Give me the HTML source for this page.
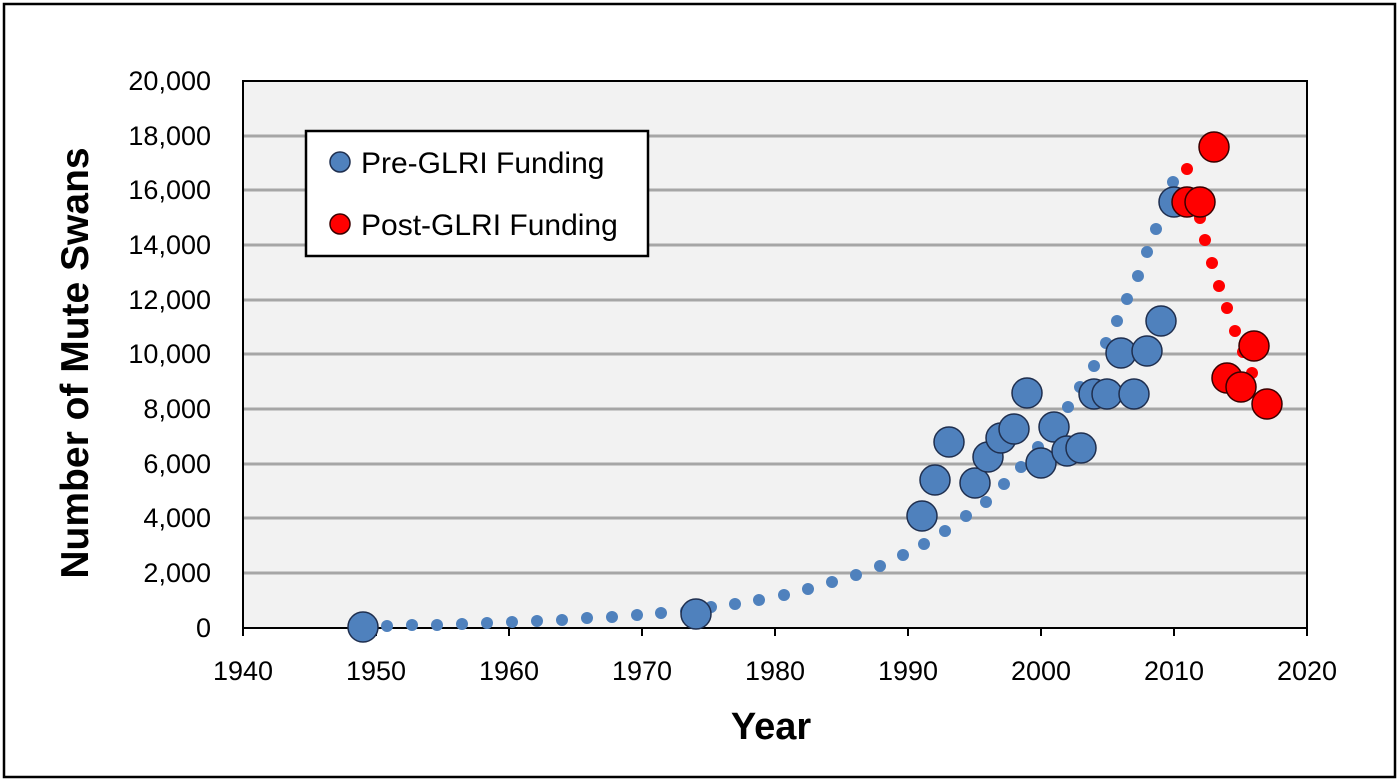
<!DOCTYPE html>
<html><head><style>body{margin:0;background:#fff}svg{display:block}text{font-family:"Liberation Sans",sans-serif;fill:#000}</style></head>
<body>
<svg width="1400" height="782" viewBox="0 0 1400 782" xmlns="http://www.w3.org/2000/svg">
<rect x="4" y="4" width="1391" height="773" fill="#fff" stroke="#000" stroke-width="2.5"/>
<rect x="243" y="81" width="1064" height="547" fill="#f2f2f2"/>
<g stroke="#a6a6a6" stroke-width="3">
<line x1="243" x2="1307" y1="136" y2="136"/><line x1="243" x2="1307" y1="190" y2="190"/>
<line x1="243" x2="1307" y1="245" y2="245"/><line x1="243" x2="1307" y1="300" y2="300"/>
<line x1="243" x2="1307" y1="354" y2="354"/><line x1="243" x2="1307" y1="409" y2="409"/>
<line x1="243" x2="1307" y1="464" y2="464"/><line x1="243" x2="1307" y1="518" y2="518"/>
<line x1="243" x2="1307" y1="573" y2="573"/>
</g>
<rect x="243" y="81" width="1064" height="547" fill="none" stroke="#000" stroke-width="2"/>
<g stroke="#000" stroke-width="2">
<line x1="243" x2="243" y1="628" y2="636"/><line x1="376" x2="376" y1="628" y2="636"/><line x1="509" x2="509" y1="628" y2="636"/><line x1="642" x2="642" y1="628" y2="636"/><line x1="775" x2="775" y1="628" y2="636"/><line x1="908" x2="908" y1="628" y2="636"/><line x1="1041" x2="1041" y1="628" y2="636"/><line x1="1174" x2="1174" y1="628" y2="636"/><line x1="1307" x2="1307" y1="628" y2="636"/>
</g>
<g font-size="27" text-anchor="end">
<text x="211" y="90">20,000</text><text x="211" y="145">18,000</text><text x="211" y="199">16,000</text><text x="211" y="254">14,000</text><text x="211" y="309">12,000</text><text x="211" y="363">10,000</text><text x="211" y="418">8,000</text><text x="211" y="473">6,000</text><text x="211" y="527">4,000</text><text x="211" y="582">2,000</text><text x="211" y="637">0</text>
</g>
<g font-size="27" text-anchor="middle">
<text x="243" y="680">1940</text><text x="376" y="680">1950</text><text x="509" y="680">1960</text><text x="642" y="680">1970</text><text x="775" y="680">1980</text><text x="908" y="680">1990</text><text x="1041" y="680">2000</text><text x="1174" y="680">2010</text><text x="1307" y="680">2020</text>
</g>
<text x="771" y="739" font-size="38" font-weight="bold" text-anchor="middle">Year</text>
<text transform="translate(88,363) rotate(-90)" font-size="39" font-weight="bold" text-anchor="middle">Number of Mute Swans</text>
<g fill="#4f81bd">
<circle cx="387" cy="626" r="6"/><circle cx="412" cy="625" r="6"/><circle cx="437" cy="625" r="6"/><circle cx="462" cy="624" r="6"/><circle cx="487" cy="623" r="6"/><circle cx="512" cy="622" r="6"/><circle cx="537" cy="621" r="6"/><circle cx="562" cy="620" r="6"/><circle cx="587" cy="618" r="6"/><circle cx="612" cy="617" r="6"/><circle cx="637" cy="615" r="6"/><circle cx="661" cy="613" r="6"/><circle cx="686" cy="611" r="6"/><circle cx="711" cy="607" r="6"/><circle cx="735" cy="604" r="6"/><circle cx="759" cy="600" r="6"/><circle cx="784" cy="595" r="6"/><circle cx="808" cy="589" r="6"/><circle cx="832" cy="582" r="6"/><circle cx="856" cy="575" r="6"/><circle cx="880" cy="566" r="6"/><circle cx="903" cy="555" r="6"/><circle cx="924" cy="544" r="6"/><circle cx="945" cy="531" r="6"/><circle cx="966" cy="516" r="6"/><circle cx="986" cy="502" r="6"/><circle cx="1004" cy="484" r="6"/><circle cx="1021" cy="467" r="6"/><circle cx="1038" cy="447" r="6"/><circle cx="1054" cy="428" r="6"/><circle cx="1068" cy="407" r="6"/><circle cx="1080" cy="387" r="6"/><circle cx="1094" cy="366" r="6"/><circle cx="1106" cy="343" r="6"/><circle cx="1117" cy="321" r="6"/><circle cx="1127" cy="299" r="6"/><circle cx="1138" cy="276" r="6"/><circle cx="1147" cy="252" r="6"/><circle cx="1156" cy="229" r="6"/><circle cx="1166" cy="206" r="6"/><circle cx="1173" cy="182" r="6"/>
</g>
<g fill="#4f81bd" stroke="#1f2f4f" stroke-width="1.5">
<circle cx="363" cy="627" r="15"/><circle cx="696" cy="614" r="15"/><circle cx="922" cy="516" r="15"/><circle cx="935" cy="480" r="15"/><circle cx="949" cy="442" r="15"/><circle cx="975" cy="483" r="15"/><circle cx="988" cy="457" r="15"/><circle cx="1001" cy="438" r="15"/><circle cx="1014" cy="429" r="15"/><circle cx="1027" cy="393" r="15"/><circle cx="1041" cy="463" r="15"/><circle cx="1054" cy="427" r="15"/><circle cx="1067" cy="451" r="15"/><circle cx="1081" cy="448" r="15"/><circle cx="1094" cy="394" r="15"/><circle cx="1107" cy="394" r="15"/><circle cx="1121" cy="353" r="15"/><circle cx="1134" cy="394" r="15"/><circle cx="1147" cy="351" r="15"/><circle cx="1161" cy="321" r="15"/><circle cx="1174" cy="202" r="15"/>
</g>
<g fill="#ff0000">
<circle cx="1187" cy="169" r="6"/><circle cx="1196" cy="195" r="6"/><circle cx="1200" cy="218" r="6"/><circle cx="1205" cy="240" r="6"/><circle cx="1212" cy="263" r="6"/><circle cx="1219" cy="286" r="6"/><circle cx="1227" cy="308" r="6"/><circle cx="1235" cy="331" r="6"/><circle cx="1243" cy="352" r="6"/><circle cx="1252" cy="373" r="6"/>
</g>
<g fill="#ff0000" stroke="#3a0000" stroke-width="1.5">
<circle cx="1187" cy="202" r="15"/><circle cx="1200" cy="202" r="15"/><circle cx="1214" cy="147" r="15"/><circle cx="1227" cy="378" r="15"/><circle cx="1241" cy="387" r="15"/><circle cx="1254" cy="346" r="15"/><circle cx="1267" cy="404" r="15"/>
</g>
<rect x="306" y="131" width="342" height="125" fill="#fff" stroke="#000" stroke-width="2.5"/>
<circle cx="340" cy="162" r="10" fill="#4f81bd" stroke="#1f2f4f" stroke-width="1.5"/>
<circle cx="340" cy="224" r="10" fill="#ff0000" stroke="#3a0000" stroke-width="1.5"/>
<text x="361" y="173" font-size="30">Pre-GLRI Funding</text>
<text x="361" y="235" font-size="30">Post-GLRI Funding</text>
</svg>
</body></html>
